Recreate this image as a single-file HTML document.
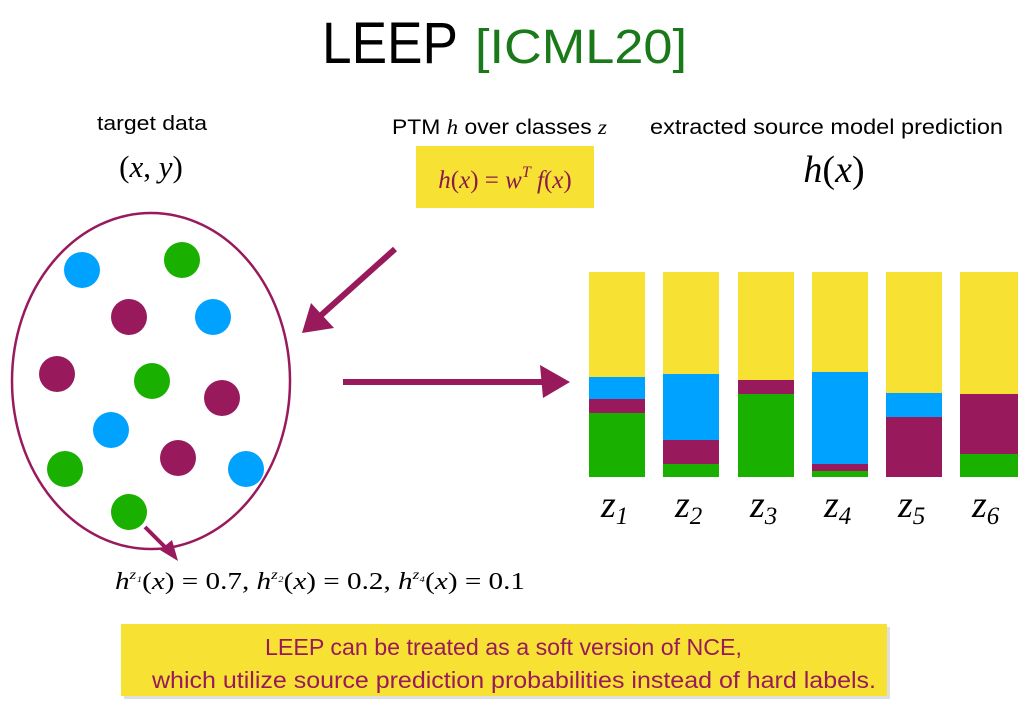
<!DOCTYPE html>
<html><head><meta charset="utf-8"><style>
html,body{margin:0;padding:0;background:#fff;}
svg{display:block;}
.m{font-family:"Liberation Serif",serif;font-style:italic;}
.r{font-family:"Liberation Serif",serif;}
.s{font-family:"Liberation Sans",sans-serif;}
</style></head><body>
<svg width="1024" height="709" viewBox="0 0 1024 709" xmlns="http://www.w3.org/2000/svg">
<text x="322" y="63" class="s" font-size="58" fill="#000" textLength="136" lengthAdjust="spacingAndGlyphs">LEEP</text>
<text x="475" y="63" class="s" font-size="48" fill="#1a7a1a" textLength="212" lengthAdjust="spacingAndGlyphs">[ICML20]</text>

<text x="97" y="130" class="s" font-size="20" textLength="110" lengthAdjust="spacingAndGlyphs">target data</text>
<text x="151" y="177" font-size="31" text-anchor="middle"><tspan class="r">(</tspan><tspan class="m">x</tspan><tspan class="r">, </tspan><tspan class="m">y</tspan><tspan class="r">)</tspan></text>

<text x="392" y="134" font-size="21" textLength="215" lengthAdjust="spacingAndGlyphs"><tspan class="s">PTM </tspan><tspan class="m">h</tspan><tspan class="s"> over classes </tspan><tspan class="m">z</tspan></text>
<rect x="416" y="146" width="178" height="62" fill="#f7e233"/>
<text x="505" y="188" font-size="25" text-anchor="middle" fill="#8a1a4c"><tspan class="m">h</tspan><tspan class="r">(</tspan><tspan class="m">x</tspan><tspan class="r">) = </tspan><tspan class="m">w</tspan><tspan class="m" font-size="16" dy="-11">T</tspan><tspan class="m" dy="11"> f</tspan><tspan class="r">(</tspan><tspan class="m">x</tspan><tspan class="r">)</tspan></text>

<text x="650" y="134" class="s" font-size="21" textLength="353" lengthAdjust="spacingAndGlyphs">extracted source model prediction</text>
<text x="834" y="182" font-size="38" text-anchor="middle"><tspan class="m">h</tspan><tspan class="r">(</tspan><tspan class="m">x</tspan><tspan class="r">)</tspan></text>

<ellipse cx="151" cy="381" rx="139" ry="168" fill="none" stroke="#991a5c" stroke-width="2.5"/>
<g>
<circle cx="82" cy="270" r="18" fill="#00a2ff"/>
<circle cx="182" cy="260" r="18" fill="#1ab000"/>
<circle cx="129" cy="317" r="18" fill="#991a5c"/>
<circle cx="213" cy="317" r="18" fill="#00a2ff"/>
<circle cx="57" cy="374" r="18" fill="#991a5c"/>
<circle cx="152" cy="381" r="18" fill="#1ab000"/>
<circle cx="222" cy="398" r="18" fill="#991a5c"/>
<circle cx="111" cy="430" r="18" fill="#00a2ff"/>
<circle cx="65" cy="469" r="18" fill="#1ab000"/>
<circle cx="178" cy="458" r="18" fill="#991a5c"/>
<circle cx="246" cy="469" r="18" fill="#00a2ff"/>
<circle cx="129" cy="512" r="18" fill="#1ab000"/>
</g>
<line x1="145" y1="527" x2="168" y2="550" stroke="#991a5c" stroke-width="4"/>
<polygon points="178,561 160,550 172,540" fill="#991a5c"/>

<line x1="395" y1="249" x2="318" y2="318" stroke="#991a5c" stroke-width="6"/>
<polygon points="302,333 311,303 334,328" fill="#991a5c"/>
<line x1="343" y1="382" x2="545" y2="382" stroke="#991a5c" stroke-width="6"/>
<polygon points="540,365 570,382 543,398" fill="#991a5c"/>

<g>
<rect x="589" y="272" width="56" height="105" fill="#f7e233"/><rect x="589" y="377" width="56" height="22" fill="#00a2ff"/><rect x="589" y="399" width="56" height="14" fill="#991a5c"/><rect x="589" y="413" width="56" height="64" fill="#1ab000"/>
<rect x="663" y="272" width="56" height="102" fill="#f7e233"/><rect x="663" y="374" width="56" height="66" fill="#00a2ff"/><rect x="663" y="440" width="56" height="24" fill="#991a5c"/><rect x="663" y="464" width="56" height="13" fill="#1ab000"/>
<rect x="738" y="272" width="56" height="108" fill="#f7e233"/><rect x="738" y="380" width="56" height="14" fill="#991a5c"/><rect x="738" y="394" width="56" height="83" fill="#1ab000"/>
<rect x="812" y="272" width="56" height="100" fill="#f7e233"/><rect x="812" y="372" width="56" height="92" fill="#00a2ff"/><rect x="812" y="464" width="56" height="7" fill="#991a5c"/><rect x="812" y="471" width="56" height="6" fill="#1ab000"/>
<rect x="886" y="272" width="56" height="121" fill="#f7e233"/><rect x="886" y="393" width="56" height="24" fill="#00a2ff"/><rect x="886" y="417" width="56" height="60" fill="#991a5c"/>
<rect x="960" y="272" width="58" height="122" fill="#f7e233"/><rect x="960" y="394" width="58" height="60" fill="#991a5c"/><rect x="960" y="454" width="58" height="23" fill="#1ab000"/>
</g>
<g font-size="38">
<text x="601" y="517" class="m">z<tspan class="r" font-size="25" dy="7">1</tspan></text>
<text x="675" y="517" class="m">z<tspan class="r" font-size="25" dy="7">2</tspan></text>
<text x="750" y="517" class="m">z<tspan class="r" font-size="25" dy="7">3</tspan></text>
<text x="824" y="517" class="m">z<tspan class="r" font-size="25" dy="7">4</tspan></text>
<text x="898" y="517" class="m">z<tspan class="r" font-size="25" dy="7">5</tspan></text>
<text x="972" y="517" class="m">z<tspan class="r" font-size="25" dy="7">6</tspan></text>
</g>

<text x="115" y="589" font-size="24" textLength="410" lengthAdjust="spacingAndGlyphs"><tspan class="m">h</tspan><tspan class="m" font-size="14" dy="-10">z₁</tspan><tspan class="r" dy="10">(</tspan><tspan class="m">x</tspan><tspan class="r">) = 0.7, </tspan><tspan class="m">h</tspan><tspan class="m" font-size="14" dy="-10">z₂</tspan><tspan class="r" dy="10">(</tspan><tspan class="m">x</tspan><tspan class="r">) = 0.2, </tspan><tspan class="m">h</tspan><tspan class="m" font-size="14" dy="-10">z₄</tspan><tspan class="r" dy="10">(</tspan><tspan class="m">x</tspan><tspan class="r">) = 0.1</tspan></text>

<rect x="124" y="627" width="766" height="72" fill="#c9c9c9" opacity="0.6"/>
<rect x="121" y="624" width="766" height="72" fill="#f7e233"/>
<text x="265" y="655" class="s" font-size="23" fill="#991a5c" textLength="477" lengthAdjust="spacingAndGlyphs">LEEP can be treated as a soft version of NCE,</text>
<text x="152" y="688" class="s" font-size="23" fill="#991a5c" textLength="724" lengthAdjust="spacingAndGlyphs">which utilize source prediction probabilities instead of hard labels.</text>
</svg>
</body></html>
